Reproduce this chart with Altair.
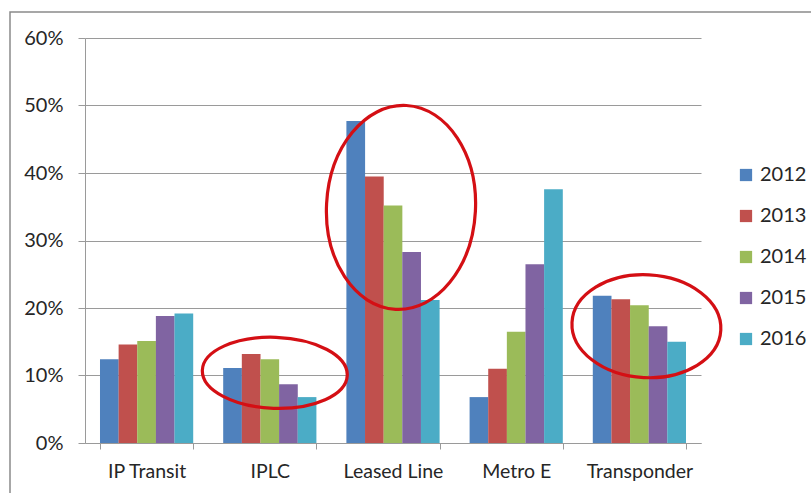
import altair as alt
import pandas as pd

# Share of each service by year
services = ["IP Transit", "IPLC", "Leased Line", "Metro E", "Transponder"]
years = ["2012", "2013", "2014", "2015", "2016"]
share_2012 = [0.124, 0.111, 0.477, 0.068, 0.218]
share_2013 = [0.146, 0.132, 0.395, 0.110, 0.213]
share_2014 = [0.151, 0.124, 0.352, 0.165, 0.204]
share_2015 = [0.188, 0.087, 0.283, 0.265, 0.173]
share_2016 = [0.192, 0.068, 0.212, 0.376, 0.150]
colors = ["#4F81BD", "#C0504D", "#9BBB59", "#8064A2", "#4BACC6"]

series = [share_2012, share_2013, share_2014, share_2015, share_2016]
rows = []
for year, values in zip(years, series):
    for service, v in zip(services, values):
        rows.append({"service": service, "year": year, "share": v})
df = pd.DataFrame(rows)

FONT = "Lato"
GRID = "#9a9a9a"
TEXT = "#262626"

x_scale = alt.Scale(domain=services, paddingInner=0.244, paddingOuter=0.122)
y_scale = alt.Scale(domain=[0, 0.6])

bars = alt.Chart(df).mark_bar(size=18.7).encode(
    x=alt.X("service:N", scale=x_scale, sort=services, title=None,
            axis=alt.Axis(labelAngle=0, tickBand="extent", ticks=True,
                          tickSize=6, tickColor=GRID, domainColor=GRID,
                          labelFontSize=19.5, labelColor=TEXT, labelFont=FONT,
                          labelPadding=13, grid=False)),
    xOffset=alt.XOffset("year:N", sort=years,
                        scale=alt.Scale(paddingInner=0, paddingOuter=0)),
    y=alt.Y("share:Q", scale=y_scale, title=None,
            axis=alt.Axis(format=".0%", values=[0, 0.1, 0.2, 0.3, 0.4, 0.5, 0.6],
                          tickSize=7, tickColor=GRID, domainColor=GRID,
                          gridColor=GRID, labelFontSize=20, labelColor=TEXT,
                          labelFont=FONT, labelPadding=15)),
    color=alt.Color("year:N", sort=years,
                    scale=alt.Scale(domain=years, range=colors),
                    legend=alt.Legend(title=None, orient="none", legendX=651,
                                      legendY=127, symbolType="square",
                                      symbolSize=150, symbolStrokeWidth=0,
                                      labelFontSize=20, labelFont=FONT,
                                      labelColor=TEXT, rowPadding=21,
                                      labelOffset=4)),
)


def ellipse(ry):
    return (f"M -1 0 A 1 {ry} 0 1 0 1 0 A 1 {ry} 0 1 0 -1 0 Z")


# Red highlight ellipses around the declining groups
marks = []
for service, center, width, ry, dx, angle in [
    ("IPLC", 0.104, 145, 0.49, 5, 2),
    ("Leased Line", 0.349, 149, 1.37, 8, 3),
    ("Transponder", 0.173, 149, 0.69, 7, 3),
]:
    marks.append(
        alt.Chart(pd.DataFrame({"service": [service], "share": [center]}))
        .mark_point(shape=ellipse(ry), size=width ** 2, filled=False,
                    stroke="#d40f14", strokeWidth=3.2, opacity=1, xOffset=dx,
                    angle=angle)
        .encode(x=alt.X("service:N", sort=services, scale=x_scale),
                y=alt.Y("share:Q", scale=y_scale))
    )

# Outer chart frame
frame = alt.Chart(pd.DataFrame({"a": [0]})).mark_rect(
    fill=None, stroke="#8a8a8a", strokeWidth=1.5
).encode(x=alt.value(-75), x2=alt.value(740), y=alt.value(-26), y2=alt.value(470))

chart = alt.layer(frame, bars, *marks).properties(
    width=616, height=405,
    autosize=alt.AutoSizeParams(type="none"),
    padding={"left": 85, "top": 38, "right": 110, "bottom": 50},
).configure_view(stroke=None).configure_axis(gridWidth=1, domainWidth=1)

chart.save("out.html", embed_options={"renderer": "svg", "actions": False})
